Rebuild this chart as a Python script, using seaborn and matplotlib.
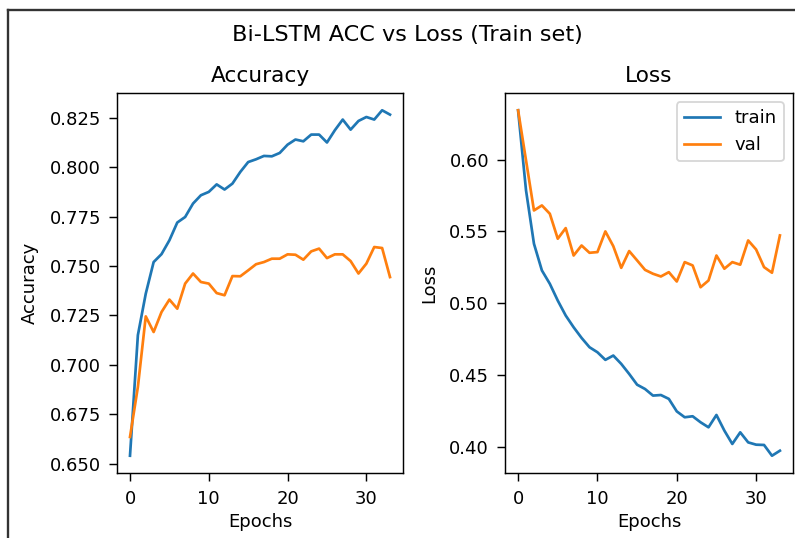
import numpy as np
import pandas as pd
import matplotlib
matplotlib.use("Agg")
import matplotlib.pyplot as plt
from matplotlib.lines import Line2D
import seaborn as sns

# Per-epoch training history of the Bi-LSTM model
epochs = list(range(34))

train_acc = [0.654, 0.715, 0.736, 0.752, 0.756, 0.763, 0.772, 0.7748, 0.7816, 0.7858,
             0.7875, 0.7913, 0.7887, 0.7917, 0.7976, 0.8026, 0.804, 0.8057, 0.8055, 0.8072,
             0.8114, 0.814, 0.8131, 0.8165, 0.8165, 0.8125, 0.8187, 0.8241, 0.819, 0.8234,
             0.8254, 0.8241, 0.8288, 0.8266]
val_acc = [0.6635, 0.6888, 0.7245, 0.7166, 0.7267, 0.733, 0.7284, 0.7411, 0.7462, 0.7419,
           0.7411, 0.7363, 0.7352, 0.7449, 0.7448, 0.7478, 0.7509, 0.752, 0.7537, 0.7537,
           0.7559, 0.7557, 0.7532, 0.7574, 0.7588, 0.754, 0.7559, 0.7559, 0.7525, 0.7462,
           0.7512, 0.7596, 0.7591, 0.7444]

train_loss = [0.6344, 0.5786, 0.5414, 0.5228, 0.5135, 0.5018, 0.4914, 0.4832, 0.4758, 0.4693,
              0.4658, 0.4605, 0.4635, 0.4577, 0.4507, 0.4432, 0.4402, 0.4356, 0.436, 0.4333,
              0.4246, 0.4205, 0.4212, 0.417, 0.4135, 0.4221, 0.4112, 0.4019, 0.41, 0.403,
              0.4014, 0.4012, 0.3937, 0.3972]
val_loss = [0.6344, 0.5995, 0.5646, 0.5681, 0.5623, 0.5449, 0.5523, 0.5332, 0.5402, 0.5351,
            0.5356, 0.55, 0.5397, 0.5246, 0.5363, 0.5298, 0.5232, 0.5205, 0.5186, 0.5216,
            0.5151, 0.5286, 0.5263, 0.5111, 0.5158, 0.5332, 0.524, 0.5286, 0.5268, 0.5437,
            0.5374, 0.5251, 0.5212, 0.5472]

splits = ["train", "val"]
acc_ticks = [0.650, 0.675, 0.700, 0.725, 0.750, 0.775, 0.800, 0.825]
loss_ticks = [0.40, 0.45, 0.50, 0.55, 0.60]
epoch_ticks = [0, 10, 20, 30]

acc_df = pd.DataFrame({
    "epoch": epochs * 2,
    "value": train_acc + val_acc,
    "split": [splits[0]] * len(epochs) + [splits[1]] * len(epochs),
})
loss_df = pd.DataFrame({
    "epoch": epochs * 2,
    "value": train_loss + val_loss,
    "split": [splits[0]] * len(epochs) + [splits[1]] * len(epochs),
})

plt.rcParams.update({
    "xtick.major.size": 4.5,
    "ytick.major.size": 4.5,
    "xtick.major.pad": 5.0,
    "ytick.major.pad": 4.3,
})

W, H, DPI = 795, 538, 130
fig = plt.figure(figsize=(W / DPI, H / DPI), dpi=DPI)
ax_acc = fig.add_axes([117 / W, 1 - 473 / H, (403 - 117) / W, (473 - 93) / H])
ax_loss = fig.add_axes([505 / W, 1 - 473 / H, (793 - 505) / W, (473 - 93) / H])

palette = ["#1f77b4", "#ff7f0e"]

sns.lineplot(data=acc_df, x="epoch", y="value", hue="split", palette=palette,
             ax=ax_acc, legend=False, linewidth=1.5)
ax_acc.set_title("Accuracy")
ax_acc.set_xlabel("Epochs", labelpad=2.6)
ax_acc.set_ylabel("Accuracy", labelpad=6.2)
ax_acc.set_yticks(acc_ticks)
ax_acc.set_xticks(epoch_ticks)

sns.lineplot(data=loss_df, x="epoch", y="value", hue="split", palette=palette,
             ax=ax_loss, linewidth=1.5)
ax_loss.set_title("Loss")
ax_loss.set_xlabel("Epochs", labelpad=2.6)
ax_loss.set_ylabel("Loss", labelpad=6.2)
ax_loss.set_yticks(loss_ticks)
ax_loss.set_xticks(epoch_ticks)
sns.move_legend(ax_loss, "upper right", title=None)

fig.suptitle("Bi-LSTM ACC vs Loss (Train set)", x=407 / W, y=1 - 35 / H,
             va="center", fontsize=12.4)

# Thin frame around the figure on the left and top edges
fig.add_artist(Line2D([8 / W, 8 / W], [0, 1 - 10 / H], transform=fig.transFigure,
                      color="#333333", linewidth=1.3))
fig.add_artist(Line2D([8 / W, 1], [1 - 10 / H, 1 - 10 / H], transform=fig.transFigure,
                      color="#333333", linewidth=1.3))

fig.savefig("out.png", dpi=DPI)
